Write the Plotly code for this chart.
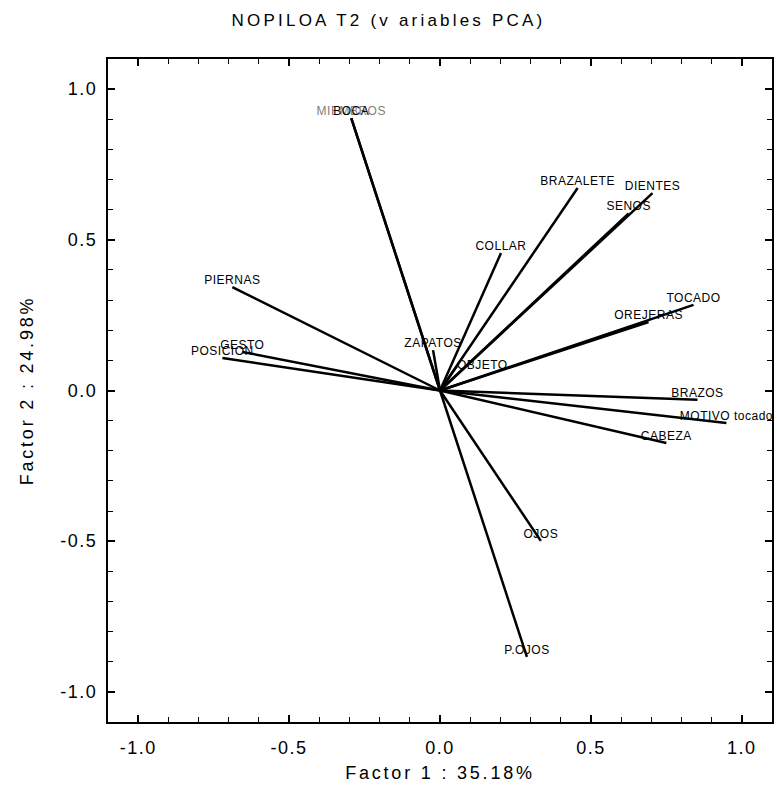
import plotly.graph_objects as go

# PCA loadings on the first two factors
variables = ["MIEMBROS", "BOCA", "PIERNAS", "GESTO", "POSICION", "ZAPATOS", "OBJETO",
             "COLLAR", "BRAZALETE", "SENOS", "DIENTES", "TOCADO", "OREJERAS",
             "BRAZOS", "MOTIVO tocado", "CABEZA", "OJOS", "P.OJOS"]
factor1 = [-0.294, -0.294, -0.688, -0.655, -0.721, -0.023, 0.056,
           0.202, 0.456, 0.625, 0.704, 0.840, 0.691,
           0.853, 0.949, 0.750, 0.334, 0.288]
factor2 = [0.904, 0.904, 0.343, 0.128, 0.108, 0.134, 0.081,
           0.456, 0.672, 0.588, 0.655, 0.284, 0.227,
           -0.031, -0.108, -0.174, -0.499, -0.884]

tick_vals = [-1.0, -0.5, 0.0, 0.5, 1.0]
tick_text = ["-1.0", "-0.5", "0.0", "0.5", "1.0"]

font_family = "Liberation Sans, Arial, sans-serif"


def spaced(text, px):
    """Wrap text in a span with extra letter spacing."""
    return f'<span style="letter-spacing:{px}px">{text}</span>'


# vectors from the origin, joined into one trace with gaps
vx, vy = [], []
for x, y in zip(factor1, factor2):
    vx += [0, x, None]
    vy += [0, y, None]

label_colors = ["#808080" if v == "MIEMBROS" else "black" for v in variables]
label_pos = ["middle right" if v == "OBJETO" else "top center" for v in variables]

fig = go.Figure()
fig.add_trace(go.Scatter(
    x=vx, y=vy, mode="lines",
    line=dict(color="black", width=2.5),
    hoverinfo="skip", showlegend=False,
))
fig.add_trace(go.Scatter(
    x=factor1, y=factor2, mode="text",
    text=[spaced(v, 0.5) for v in variables], textposition=label_pos,
    textfont=dict(family=font_family, size=12, color=label_colors),
    cliponaxis=False, showlegend=False,
))

axis_common = dict(
    range=[-1.1, 1.1],
    tickvals=tick_vals, ticktext=[spaced(t, 1.5) for t in tick_text],
    ticks="inside", ticklen=7, tickwidth=1.5, tickcolor="black",
    minor=dict(dtick=0.1, ticks="inside", ticklen=5, tickwidth=1, tickcolor="black"),
    showline=True, linewidth=2, linecolor="black", mirror="allticks",
    showgrid=False, zeroline=False,
    tickfont=dict(family=font_family, size=18, color="black"),
)

fig.update_layout(
    width=777, height=805,
    margin=dict(l=108, r=3, t=59, b=83),
    paper_bgcolor="white", plot_bgcolor="white",
    title=dict(text=spaced("NOPILOA T2 (v ariables PCA)", 3.2), x=0.5, xref="container",
               xanchor="center", y=0.975, yanchor="middle",
               font=dict(family=font_family, size=17, color="black")),
    xaxis=dict(axis_common, ticklabelstandoff=8,
               title=dict(text=spaced("Factor 1 : 35.18%", 2.8), standoff=10,
                          font=dict(family=font_family, size=18, color="black"))),
    yaxis=dict(axis_common, ticklabelstandoff=5,
               title=dict(text=spaced("Factor 2 : 24.98%", 2.8), standoff=22,
                          font=dict(family=font_family, size=18, color="black"))),
)

fig.write_html("out.html")
